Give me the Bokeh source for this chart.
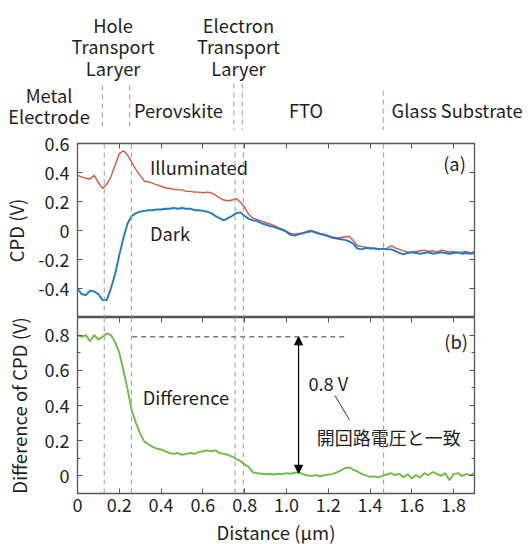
from bokeh.plotting import figure
from bokeh.layouts import column, row
from bokeh.models import Range1d, FixedTicker, LinearAxis, Span, Arrow, NormalHead, Label
from bokeh.core.properties import value
from bokeh.embed import file_html
from bokeh.resources import INLINE

# ---------------- data ----------------
distance = [0.00, 0.02, 0.04, 0.06, 0.08, 0.10, 0.12, 0.14, 0.16, 0.18,
            0.20, 0.22, 0.24, 0.26, 0.28, 0.30, 0.32, 0.34, 0.36, 0.38,
            0.40, 0.42, 0.44, 0.46, 0.48, 0.50, 0.52, 0.54, 0.56, 0.58,
            0.60, 0.62, 0.64, 0.66, 0.68, 0.70, 0.72, 0.74, 0.76, 0.78,
            0.80, 0.82, 0.84, 0.86, 0.88, 0.90, 0.92, 0.94, 0.96, 0.98,
            1.00, 1.02, 1.04, 1.06, 1.08, 1.10, 1.12, 1.14, 1.16, 1.18,
            1.20, 1.22, 1.24, 1.26, 1.28, 1.30, 1.32, 1.34, 1.36, 1.38,
            1.40, 1.42, 1.44, 1.46, 1.48, 1.50, 1.52, 1.54, 1.56, 1.58,
            1.60, 1.62, 1.64, 1.66, 1.68, 1.70, 1.72, 1.74, 1.76, 1.78,
            1.80, 1.82, 1.84, 1.86, 1.88, 1.90]

illuminated = [0.38, 0.37, 0.36, 0.355, 0.38, 0.33, 0.29, 0.32, 0.37, 0.45,
               0.53, 0.55, 0.52, 0.47, 0.42, 0.38, 0.34, 0.335, 0.325, 0.315,
               0.305, 0.295, 0.29, 0.285, 0.28, 0.28, 0.27, 0.27, 0.265, 0.265,
               0.26, 0.265, 0.26, 0.245, 0.225, 0.21, 0.205, 0.21, 0.22, 0.195,
               0.16, 0.11, 0.085, 0.075, 0.065, 0.055, 0.045, 0.035, 0.02, 0.01,
               -0.005, -0.02, -0.025, -0.02, -0.015, -0.005, 0.0, -0.01, -0.02, -0.025,
               -0.035, -0.045, -0.05, -0.05, -0.045, -0.04, -0.07, -0.105, -0.11, -0.115,
               -0.12, -0.12, -0.125, -0.125, -0.125, -0.105, -0.12, -0.13, -0.14, -0.15,
               -0.15, -0.145, -0.14, -0.135, -0.145, -0.14, -0.15, -0.135, -0.14, -0.15,
               -0.145, -0.155, -0.15, -0.145, -0.155, -0.145]

dark = [-0.40, -0.44, -0.445, -0.415, -0.42, -0.44, -0.48, -0.48, -0.40, -0.30,
        -0.17, -0.05, 0.05, 0.10, 0.12, 0.13, 0.135, 0.14, 0.14, 0.145,
        0.145, 0.15, 0.15, 0.155, 0.15, 0.155, 0.15, 0.15, 0.14, 0.14,
        0.135, 0.13, 0.12, 0.10, 0.085, 0.07, 0.085, 0.10, 0.12, 0.125,
        0.10, 0.08, 0.07, 0.065, 0.05, 0.04, 0.03, 0.025, 0.015, 0.005,
        -0.01, -0.03, -0.035, -0.025, -0.02, -0.01, -0.005, -0.015, -0.025, -0.03,
        -0.04, -0.05, -0.055, -0.06, -0.065, -0.075, -0.09, -0.125, -0.13, -0.12,
        -0.125, -0.125, -0.13, -0.125, -0.13, -0.13, -0.14, -0.155, -0.165, -0.155,
        -0.15, -0.155, -0.16, -0.155, -0.15, -0.16, -0.155, -0.15, -0.155, -0.16,
        -0.155, -0.15, -0.16, -0.155, -0.16, -0.155]

difference = [0.80, 0.79, 0.80, 0.765, 0.80, 0.775, 0.79, 0.81, 0.80, 0.76,
              0.70, 0.60, 0.49, 0.37, 0.30, 0.24, 0.195, 0.18, 0.165, 0.155,
              0.15, 0.14, 0.13, 0.125, 0.13, 0.12, 0.125, 0.13, 0.125, 0.135,
              0.14, 0.145, 0.14, 0.145, 0.13, 0.125, 0.12, 0.11, 0.095, 0.085,
              0.065, 0.05, 0.02, 0.015, 0.012, 0.01, 0.012, 0.008, 0.012, 0.01,
              0.016, 0.012, 0.018, 0.02, 0.01, 0.002, 0.0, 0.004, -0.002, 0.003,
              0.008, 0.01, 0.02, 0.03, 0.045, 0.048, 0.035, 0.025, 0.01, 0.003,
              -0.005, -0.003, -0.008, 0.0, 0.008, 0.016, 0.005, 0.012, -0.008, 0.01,
              -0.015, 0.005, -0.01, 0.016, 0.005, 0.022, 0.012, 0.0, 0.015, -0.025,
              0.01, 0.016, 0.0, 0.01, 0.005, 0.016]

layer_names = ["Metal\nElectrode", "Hole\nTransport\nLaryer", "Perovskite",
               "Electron\nTransport\nLaryer", "FTO", "Glass Substrate"]
layer_bounds = [0.128, 0.258, 0.754, 0.794, 1.465]

x_ticks = [0.0, 0.2, 0.4, 0.6, 0.8, 1.0, 1.2, 1.4, 1.6, 1.8]
x_tick_labels = ["0", "0.2", "0.4", "0.6", "0.8", "1.0", "1.2", "1.4", "1.6", "1.8"]
cpd_ticks = [-0.4, -0.2, 0.0, 0.2, 0.4, 0.6]
cpd_tick_labels = ["-0.4", "-0.2", "0", "0.2", "0.4", "0.6"]
diff_ticks = [0.0, 0.2, 0.4, 0.6, 0.8]
diff_tick_labels = ["0", "0.2", "0.4", "0.6", "0.8"]
diff_minor_ticks = [-0.1, 0.1, 0.3, 0.5, 0.7, 0.9]

voc = 0.8

# ---------------- style ----------------
FONT = "Noto Sans CJK JP"
RED = "#d4573e"
BLUE = "#1f7bc0"
GREEN = "#6cbd45"
TXT = "#231f20"
AX = "#555555"
DASH_GRAY = "#9a9a9a"
TEXT_SIZE = "18.3px"

W = 528
LEFT = 75
RIGHT = 54
SCALE = (W - LEFT - RIGHT) / 1.9  # px per micrometre of the panel frames

xr = Range1d(0, 1.9)


def make_axis(ticks, labels, show, minor=None, font_size="18px", label=None):
    ax = LinearAxis(ticker=FixedTicker(ticks=ticks, minor_ticks=(minor or [])))
    ax.major_tick_in = 5
    ax.major_tick_out = 0
    ax.minor_tick_in = 3
    ax.minor_tick_out = 0
    ax.major_tick_line_color = AX
    ax.minor_tick_line_color = AX
    ax.axis_line_color = None
    if show:
        ax.major_label_overrides = {t: l for t, l in zip(ticks, labels)}
        ax.major_label_text_font = FONT
        ax.major_label_text_font_size = font_size
        ax.major_label_text_color = TXT
        if label:
            ax.axis_label = label
            ax.axis_label_text_font = FONT
            ax.axis_label_text_font_size = "18.5px"
            ax.axis_label_text_font_style = "normal"
            ax.axis_label_text_color = TXT
    else:
        ax.major_label_overrides = {t: "" for t in ticks}
        ax.major_label_text_font_size = "1px"
        ax.major_label_standoff = 0
        ax.axis_label_standoff = 0
    return ax


def make_panel(yr, height, mbt, mbb):
    p = figure(width=W, height=height, x_range=xr, y_range=yr,
               output_backend="svg", toolbar_location=None,
               x_axis_location=None, y_axis_location=None,
               min_border_left=LEFT, min_border_right=RIGHT,
               min_border_top=mbt, min_border_bottom=mbb,
               background_fill_color="white", border_fill_color="white")
    p.outline_line_color = AX
    p.outline_line_width = 1.3
    p.xgrid.visible = False
    p.ygrid.visible = False
    for b in layer_bounds:
        p.add_layout(Span(location=b, dimension="height", line_color=DASH_GRAY,
                          line_dash="5 4", line_width=1))
    return p


# ---------------- header ----------------
HDR_H = 130
hdr = figure(width=W, height=HDR_H,
             x_range=Range1d(-LEFT / SCALE, 1.9 + RIGHT / SCALE),
             y_range=Range1d(0, HDR_H),
             output_backend="svg", toolbar_location=None,
             x_axis_location=None, y_axis_location=None,
             min_border=0, min_border_left=0, min_border_right=0,
             min_border_top=0, min_border_bottom=0, outline_line_color=None)
hdr.xgrid.visible = False
hdr.ygrid.visible = False
label_x = [-0.126, 0.179, 0.490, 0.776, 1.098, 1.817]
label_y = [25, 84.5, 21, 84.5, 21, 21]
LINE_STEP = 21.5
for name, lx, ly in zip(layer_names, label_x, label_y):
    parts = name.split("\n")
    n = len(parts)
    for i, part in enumerate(parts):
        hdr.add_layout(Label(x=lx, y=ly + LINE_STEP * ((n - 1) / 2 - i), text=part,
                             text_font=FONT, text_font_size=TEXT_SIZE, text_color=TXT,
                             text_align="center", text_baseline="middle"))
hdr.segment(x0=layer_bounds, x1=layer_bounds, y0=[45, 45, 47, 47, 40],
            y1=[0, 0, 0, 0, 0], line_color=DASH_GRAY, line_dash="5 4", line_width=1)

# ---------------- panel (a) ----------------
pa = make_panel(Range1d(-0.6, 0.6), 187, 13, 0)
pa.add_layout(make_axis(cpd_ticks, cpd_tick_labels, True, label="CPD (V)"), "left")
pa.add_layout(make_axis(cpd_ticks, cpd_tick_labels, False), "right")
pa.add_layout(make_axis(x_ticks, x_tick_labels, False), "above")
pa.left[0].major_label_standoff = 8
pa.left[0].axis_label_standoff = 6
pa.line(distance, illuminated, line_color=RED, line_width=1.4)
pa.line(distance, dark, line_color=BLUE, line_width=1.9)
pa.text(x=[0.347, 0.347, 1.75], y=[0.44, -0.02, 0.464],
        text=["Illuminated", "Dark", "(a)"],
        text_font=value(FONT), text_font_size=TEXT_SIZE, text_color=TXT,
        text_align="left", text_baseline="middle")

# ---------------- panel (b) ----------------
pb = make_panel(Range1d(-0.1, 0.9), 234, 0, 58)
pb.add_layout(make_axis(diff_ticks, diff_tick_labels, True, diff_minor_ticks,
                        label="Difference of CPD (V)"), "left")
pb.add_layout(make_axis(diff_ticks, diff_tick_labels, False, diff_minor_ticks), "right")
pb.add_layout(make_axis(x_ticks, x_tick_labels, True, label="Distance (μm)"), "below")
pb.add_layout(make_axis(x_ticks, x_tick_labels, False), "above")
pb.left[0].major_label_standoff = 8
pb.left[0].axis_label_standoff = 10
pb.below[0].major_label_standoff = 4
pb.below[0].axis_label_standoff = 4

pb.line(distance, difference, line_color=GREEN, line_width=1.9)
pb.segment(x0=[0.262], x1=[1.28], y0=[voc - 0.01], y1=[voc - 0.01],
           line_color="#333333", line_dash="5 4", line_width=1)
pb.add_layout(Arrow(start=NormalHead(size=8, fill_color="black", line_color="black"),
                    end=NormalHead(size=8, fill_color="black", line_color="black"),
                    x_start=1.058, y_start=voc - 0.01, x_end=1.058, y_end=0.015,
                    line_color="black", line_width=1.2))
pb.segment(x0=[1.232], x1=[1.302], y0=[0.457], y1=[0.317],
           line_color="#333333", line_width=1)
pb.text(x=[0.312, 1.105, 1.755], y=[0.45, 0.53, 0.765],
        text=["Difference", "0.8 V", "(b)"],
        text_font=value(FONT), text_font_size=TEXT_SIZE, text_color=TXT,
        text_align="left", text_baseline="middle")
pb.text(x=[1.145], y=[0.22], text=["開回路電圧と一致"],
        text_font=value(FONT), text_font_size="18px", text_color=TXT,
        text_align="left", text_baseline="middle")

layout = column(row(hdr), pa, pb, spacing=0)
open("out.html", "w").write(file_html(layout, INLINE))
